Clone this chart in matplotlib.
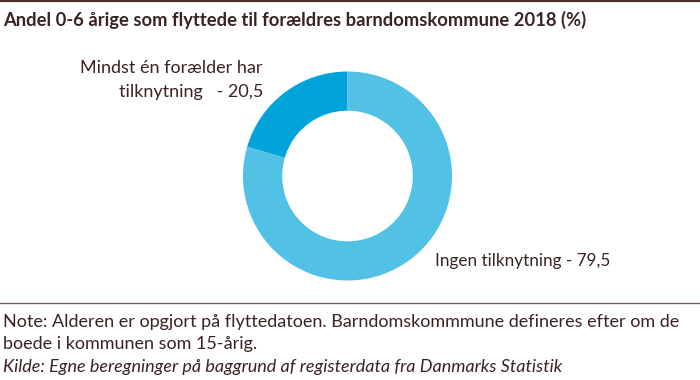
import matplotlib
matplotlib.use("Agg")
import matplotlib.pyplot as plt
from matplotlib.lines import Line2D

categories = ["Mindst én forælder har\ntilknytning   - 20,5", "Ingen tilknytning - 79,5"]
values = [20.5, 79.5]
colors = ["#00a3da", "#52c1e6"]

title = "Andel 0-6 årige som flyttede til forældres barndomskommune 2018 (%)"
note_lines = ["Note: Alderen er opgjort på flyttedatoen. Barndomskommmune defineres efter om de",
              "boede i kommunen som 15-årig."]
source = "Kilde: Egne beregninger på baggrund af registerdata fra Danmarks Statistik"

txt = "#3b2323"
plt.rcParams['font.family'] = ['Lato', 'DejaVu Sans']

W, H = 700, 380
fig = plt.figure(figsize=(W/100, H/100), dpi=100)

def fx(x): return x / W
def fy(y): return 1 - y / H

fig.add_artist(Line2D([0, 1], [fy(1), fy(1)], color="#4a2e2e", lw=1.6, transform=fig.transFigure))
fig.add_artist(Line2D([0, 1], [fy(303), fy(303)], color="#6f5e5e", lw=1.0, transform=fig.transFigure))

fig.text(fx(3), fy(20), title, fontsize=13.2, fontweight='bold', color=txt, va='center', ha='left')

cx, cy, r = 347.5, 176, 104.5
ax = fig.add_axes([fx(cx - r), fy(cy + r), 2*r/W, 2*r/H])
ax.pie(values, colors=colors, startangle=90, counterclock=True,
       wedgeprops=dict(width=0.375, edgecolor='none'), radius=1)
ax.set_xlim(-1, 1); ax.set_ylim(-1, 1)
ax.set_aspect('auto')
ax.axis('off')

l1, l2 = categories[0].split("\n")
fig.text(fx(263), fy(68), l1, fontsize=13, color=txt, ha='right', va='center')
fig.text(fx(263), fy(92), l2, fontsize=13, color=txt, ha='right', va='center')
fig.text(fx(435), fy(261), categories[1], fontsize=12.3, color=txt, ha='left', va='center')

fig.text(fx(3), fy(322), note_lines[0], fontsize=13, color=txt, ha='left', va='center')
fig.text(fx(3), fy(344), note_lines[1], fontsize=13, color=txt, ha='left', va='center')
fig.text(fx(3), fy(367), source, fontsize=13, color=txt, ha='left', va='center', style='italic')

fig.savefig("out.png", dpi=100)
